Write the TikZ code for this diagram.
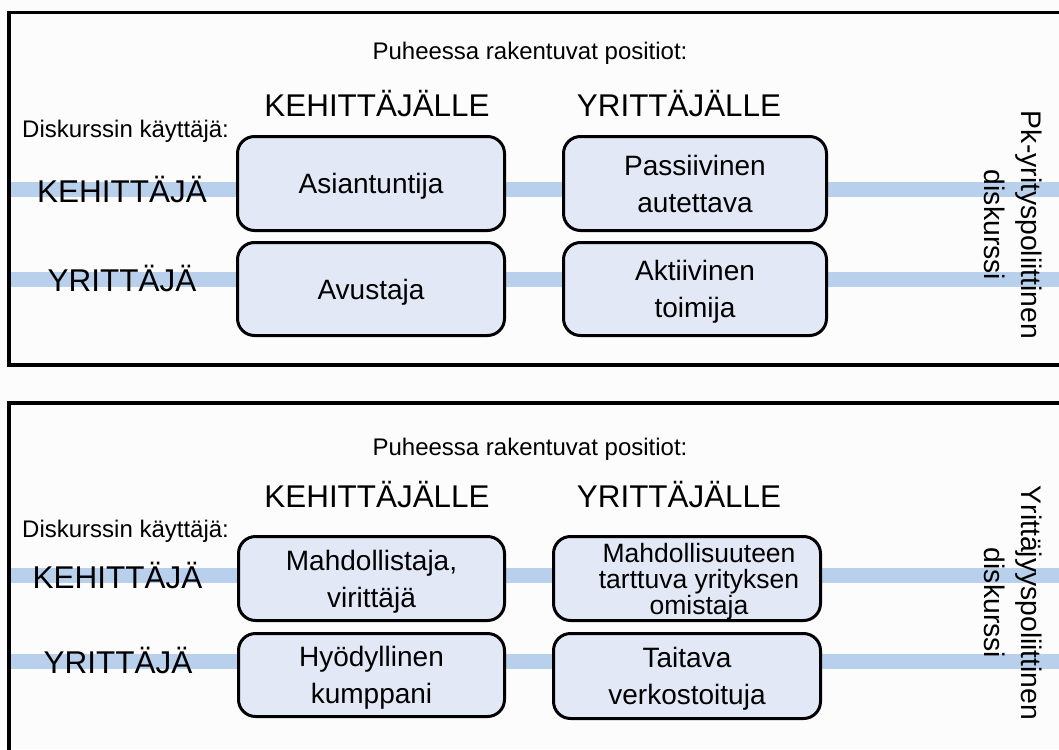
\documentclass[tikz,border=0pt]{standalone}
\usepackage{fontspec}
\setmainfont{Liberation Sans}
\definecolor{bandblue}{RGB}{185,208,237}
\definecolor{boxfill}{RGB}{226,232,245}
\definecolor{paper}{RGB}{252,252,252}

\begin{document}
\begin{tikzpicture}[x=1pt,y=-1pt,
  panel/.style={draw=black,line width=3.3pt},
  bandline/.style={draw=bandblue,line width=15pt},
  posbox/.style={draw=black,fill=boxfill,line width=3pt,rounded corners=17pt,
    inner sep=0pt,align=center,text depth=0pt,font=\fontsize{28}{37}\selectfont},
  postext/.style={inner sep=0pt,align=center,text depth=0pt,font=\fontsize{26.5}{26}\selectfont},
  title/.style={anchor=base,inner sep=0pt,font=\fontsize{24}{29}\selectfont},
  colhead/.style={anchor=base,inner sep=0pt,font=\fontsize{31.4}{37}\selectfont},
  user/.style={anchor=base west,inner sep=0pt,font=\fontsize{24}{29}\selectfont},
  rowlabel/.style={anchor=base,inner sep=0pt,font=\fontsize{31.5}{37}\selectfont},
  discourse/.style={rotate=-90,align=center,inner sep=0pt,font=\fontsize{28.3}{37}\selectfont},
]
\useasboundingbox (0,0) rectangle (1059,749);
\clip (0,0) rectangle (1059,749);
\fill[paper] (0,0) rectangle (1059,749);

% ---------- band end points ----------
\coordinate (tkw) at (9,189.5);   \coordinate (tke) at (1075,189.5);
\coordinate (tyw) at (9,279.5);   \coordinate (tye) at (1075,279.5);
\coordinate (bkw) at (9,575);     \coordinate (bke) at (1075,575);
\coordinate (byw) at (9,661);     \coordinate (bye) at (1075,661);

% user bands run under everything else
\draw[bandline] (tkw) -- (tke);
\draw[bandline] (tyw) -- (tye);
\draw[bandline] (bkw) -- (bke);
\draw[bandline] (byw) -- (bye);

% ---------- panel frames ----------
\draw[panel] (9,12.5) rectangle (1080,365);
\draw[panel] (9,403) rectangle (1080,770);

% ---------- upper panel: Pk-yrityspoliittinen diskurssi ----------
\node[title] (tpos) at (530,60) {Puheessa rakentuvat positiot:};
\node[colhead] (tkh) at (377,117) {KEHITTÄJÄLLE};
\node[colhead] (tyh) at (679,117) {YRITTÄJÄLLE};
\node[user] (tuser) at (22,137) {Diskurssin käyttäjä:};
\node[rowlabel] (tkrow) at (122,202) {KEHITTÄJÄ};
\node[rowlabel] (tyrow) at (122,291) {YRITTÄJÄ};

\node[posbox,minimum width=267pt,minimum height=94pt] (tkk) at (371,183.5) {Asiantuntija};
\node[posbox,minimum width=263pt,minimum height=94pt] (tky) at (695,183.5) {Passiivinen\\autettava};
\node[posbox,minimum width=267pt,minimum height=93pt] (tyk) at (371,289) {Avustaja};
\node[posbox,minimum width=263pt,minimum height=93pt] (tyy) at (695,289) {Aktiivinen\\toimija};

\node[discourse] (tdisc) at (1013,225) {Pk-yrityspoliittinen\\diskurssi};

% ---------- lower panel: Yrittäjyyspoliittinen diskurssi ----------
\node[title] (bpos) at (530,455) {Puheessa rakentuvat positiot:};
\node[colhead] (bkh) at (377,507) {KEHITTÄJÄLLE};
\node[colhead] (byh) at (679,507) {YRITTÄJÄLLE};
\node[user] (buser) at (22,537) {Diskurssin käyttäjä:};
\node[rowlabel] (bkrow) at (117.5,588) {KEHITTÄJÄ};
\node[rowlabel] (byrow) at (118,673) {YRITTÄJÄ};

\node[posbox,minimum width=266pt,minimum height=84pt] (bkk) at (371.5,578.5) {Mahdollistaja,\\virittäjä};
\node[posbox,minimum width=267pt,minimum height=84pt] (bky) at (687,578.5) {};
\node[postext,xshift=12pt] (bkytext) at (bky.center) {Mahdollisuuteen\\tarttuva yrityksen\\omistaja};
\node[posbox,minimum width=266pt,minimum height=83pt] (byk) at (371.5,675) {Hyödyllinen\\kumppani};
\node[posbox,minimum width=267pt,minimum height=85pt] (byy) at (687,676) {Taitava\\verkostoituja};

\node[discourse] (bdisc) at (1013,603) {Yrittäjyyspoliittinen\\diskurssi};
\end{tikzpicture}
\end{document}
